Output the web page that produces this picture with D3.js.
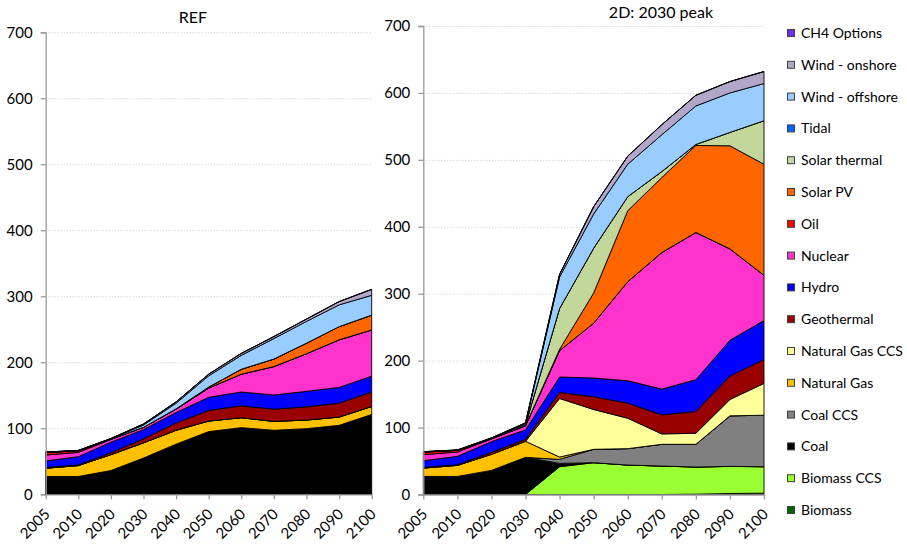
<!DOCTYPE html>
<html lang="en">
<head>
  <meta charset="utf-8">
  <title>REF vs 2D: 2030 peak</title>
  <script src="https://d3js.org/d3.v7.min.js"></script>
  <style type="text/css">
    body { margin: 0; background: #fff; }
    text { font-family: Lato, "Open Sans", sans-serif; fill: #000; }
  </style>
</head>
<body>
  <script type="text/javascript">
    // categories
    var years = ["2005", "2010", "2020", "2030", "2040", "2050", "2060", "2070", "2080", "2090", "2100"];
    var yTicks = [0, 100, 200, 300, 400, 500, 600, 700];

    // stacking order, bottom first
    var seriesNames = ["Biomass", "Biomass CCS", "Coal", "Coal CCS", "Natural Gas", "Natural Gas CCS",
      "Geothermal", "Hydro", "Nuclear", "Oil", "Solar PV", "Solar thermal", "Tidal",
      "Wind - offshore", "Wind - onshore", "CH4 Options"];
    var seriesColors = ["#006600", "#99ff33", "#000000", "#808080", "#ffc000", "#ffff99",
      "#990000", "#0000ff", "#ff33cc", "#ff0000", "#ff6600", "#c4d79b", "#0066ff",
      "#99ccff", "#b3a7c9", "#7030f0"];

    // REF scenario
    var refBiomass       = [0, 0, 0, 0, 0, 0, 0, 0, 0, 0, 0];
    var refBiomassCCS    = [0, 0, 0, 0, 0, 0, 0, 0, 0, 0, 0];
    var refCoal          = [27, 27, 36, 55, 76, 95, 101, 97, 99.5, 104.5, 121];
    var refCoalCCS       = [0, 0, 0, 0, 0, 0, 0, 0, 0, 0, 0];
    var refNaturalGas    = [12.5, 16.5, 24, 23, 21, 16, 15, 13.5, 13, 12.5, 12];
    var refNaturalGasCCS = [0, 0, 0, 0, 0, 0, 0, 0, 0, 0, 0];
    var refGeothermal    = [1, 1, 3, 6, 11, 16, 18, 18.5, 20, 21, 22];
    var refHydro         = [10, 12.5, 16, 14, 16, 20, 21, 21.5, 23.5, 24, 24];
    var refNuclear       = [9, 6.5, 4, 3.5, 5, 14, 27, 43, 57, 72, 70];
    var refOil           = [4, 2.5, 0.5, 0, 0, 0, 0, 0, 0, 0, 0];
    var refSolarPV       = [0, 0, 0, 0, 0.5, 1.5, 7.5, 11.5, 16, 20, 22.5];
    var refSolarThermal  = [0, 0, 0, 0, 0, 0, 0, 0, 0, 0, 0];
    var refTidal         = [0, 0, 0, 0, 0, 0, 0, 0, 0, 0, 0];
    var refWindOffshore  = [0, 0, 0.5, 3.5, 8.5, 17, 21, 31, 33, 33, 30];
    var refWindOnshore   = [0.5, 0.5, 0.5, 1.5, 2, 2.5, 3, 3, 3.5, 5, 9];
    var refCH4           = [0, 0, 0, 0, 0, 0, 0, 0, 0, 0, 0];

    // 2D: 2030 peak scenario
    var pkBiomass       = [0, 0, 0, 0, 0, 0, 0, 0, 0.5, 1.5, 2];
    var pkBiomassCCS    = [0, 0, 0, 0, 41.5, 47.5, 44, 42.5, 40.5, 40.5, 39.5];
    var pkCoal          = [27, 27, 36, 55.5, 5, 0, 0, 0, 0, 0, 0];
    var pkCoalCCS       = [0, 0, 0, 0, 6, 20, 24.5, 32.5, 34, 75.5, 77];
    var pkNaturalGas    = [12.5, 16.5, 24, 24, 3.5, 0, 0, 0, 0, 0, 0];
    var pkNaturalGasCCS = [0, 0, 0, 0, 87.5, 59.5, 45.5, 15.5, 16.5, 24.5, 47.5];
    var pkGeothermal    = [1, 1, 3, 3, 9, 19, 22.5, 28.5, 32.5, 35, 35.5];
    var pkHydro         = [10, 12.5, 16, 14, 23, 28, 33.5, 38.5, 47.5, 53.5, 58.5];
    var pkNuclear       = [9, 6.5, 4, 6, 39.5, 82, 148, 204, 220, 136.5, 67.5];
    var pkOil           = [4, 2.5, 0.5, 0, 0, 0, 0, 0, 0, 0, 0];
    var pkSolarPV       = [0, 0, 0, 0.5, 2, 45, 106, 112, 130, 154, 166];
    var pkSolarThermal  = [0, 0, 0, 1, 61, 67, 21, 9, 1.5, 20, 65];
    var pkTidal         = [0, 0, 0, 0, 0, 0, 0, 0, 0, 0, 0];
    var pkWindOffshore  = [0, 0, 0.5, 2, 47, 51, 48.5, 55, 57.5, 59, 55.5];
    var pkWindOnshore   = [0.5, 0.5, 0.5, 1, 4, 11, 12, 15, 16, 17, 18];
    var pkCH4           = [0, 0, 0, 0, 0, 0, 0, 0, 0, 0, 0];

    var refSeries = [refBiomass, refBiomassCCS, refCoal, refCoalCCS, refNaturalGas, refNaturalGasCCS,
      refGeothermal, refHydro, refNuclear, refOil, refSolarPV, refSolarThermal, refTidal,
      refWindOffshore, refWindOnshore, refCH4];
    var pkSeries = [pkBiomass, pkBiomassCCS, pkCoal, pkCoalCCS, pkNaturalGas, pkNaturalGasCCS,
      pkGeothermal, pkHydro, pkNuclear, pkOil, pkSolarPV, pkSolarThermal, pkTidal,
      pkWindOffshore, pkWindOnshore, pkCH4];

    var w = 907;
    var h = 544;

    var svg = d3.select("body")
      .append("svg")
      .attr("width", w)
      .attr("height", h);

    // build a row per year for d3.stack
    function makeRows(series) {
      return years.map(function (yr, i) {
        var row = { year: yr };
        seriesNames.forEach(function (name, k) { row[name] = series[k][i]; });
        return row;
      });
    }

    function drawPanel(series, box, title) {
      var x = d3.scalePoint().domain(years).range([box.left, box.right]);
      var y = d3.scaleLinear().domain([0, 700]).range([box.bottom, box.top]);

      var g = svg.append("g");

      // dotted gridlines
      g.selectAll(".grid")
        .data(yTicks.slice(1))
        .enter()
        .append("line")
        .attr("x1", box.left)
        .attr("x2", box.right)
        .attr("y1", function (d) { return y(d) + 0.5; })
        .attr("y2", function (d) { return y(d) + 0.5; })
        .attr("stroke", "#c8c8c8")
        .attr("stroke-dasharray", "1,2");

      var stack = d3.stack().keys(seriesNames);
      var layers = stack(makeRows(series));

      var area = d3.area()
        .x(function (d) { return x(d.data.year); })
        .y0(function (d) { return y(d[0]); })
        .y1(function (d) { return y(d[1]); });

      g.selectAll(".layer")
        .data(layers)
        .enter()
        .append("path")
        .attr("d", area)
        .attr("fill", function (d, i) { return seriesColors[i]; })
        .attr("stroke", "#000")
        .attr("stroke-width", 0.9)
        .attr("stroke-linejoin", "round");

      // y axis
      var yAxis = d3.axisLeft(y).tickValues(yTicks).tickSize(5).tickPadding(8);
      var ya = g.append("g")
        .attr("transform", "translate(" + box.left + ",0)")
        .call(yAxis);
      ya.select(".domain").attr("stroke", "#9a9a9a").attr("stroke-width", 1.3);
      ya.selectAll(".tick line").attr("stroke", "#9a9a9a").attr("stroke-width", 1.3);
      ya.selectAll(".tick text")
        .style("font-family", "Lato, sans-serif")
        .style("font-size", "15px")
        .attr("fill", "#000");

      // x axis
      var xAxis = d3.axisBottom(x).tickSize(5).tickSizeOuter(0);
      var xa = g.append("g")
        .attr("transform", "translate(0," + box.bottom + ")")
        .call(xAxis);
      xa.select(".domain").attr("stroke", "#9a9a9a").attr("stroke-width", 1.3);
      xa.selectAll(".tick line").attr("stroke", "#9a9a9a").attr("stroke-width", 1.3);
      xa.selectAll(".tick text")
        .attr("y", 0)
        .attr("dy", "0.35em")
        .attr("text-anchor", "end")
        .attr("transform", "translate(1,17) rotate(-45)")
        .style("font-family", "Lato, sans-serif")
        .style("font-size", "15px")
        .attr("fill", "#000");

      svg.append("text")
        .attr("x", title.x)
        .attr("y", title.y)
        .attr("text-anchor", "middle")
        .style("font-size", "16px")
        .text(title.text);
    }

    drawPanel(refSeries, { left: 45.7, right: 371.7, top: 32.3, bottom: 494.3 },
      { text: "REF", x: 193, y: 23 });
    drawPanel(pkSeries, { left: 423.3, right: 764, top: 26, bottom: 494.5 },
      { text: "2D: 2030 peak", x: 661, y: 18 });

    // legend, top entry first
    var legendItems = seriesNames.slice().reverse();
    var legendColors = seriesColors.slice().reverse();
    var legendY = d3.scalePoint().domain(legendItems).range([33, 510]);

    var leg = svg.append("g");
    var item = leg.selectAll(".item")
      .data(legendItems)
      .enter()
      .append("g")
      .attr("transform", function (d) { return "translate(787," + legendY(d) + ")"; });

    item.append("rect")
      .attr("x", 0.5)
      .attr("y", -3.5)
      .attr("width", 7)
      .attr("height", 7)
      .attr("fill", function (d, i) { return legendColors[i]; })
      .attr("stroke", "#404040")
      .attr("stroke-width", 1);

    item.append("text")
      .attr("x", 14)
      .attr("y", 0)
      .attr("dy", "0.35em")
      .style("font-size", "14px")
      .text(function (d) { return d; });
  </script>
</body>
</html>
